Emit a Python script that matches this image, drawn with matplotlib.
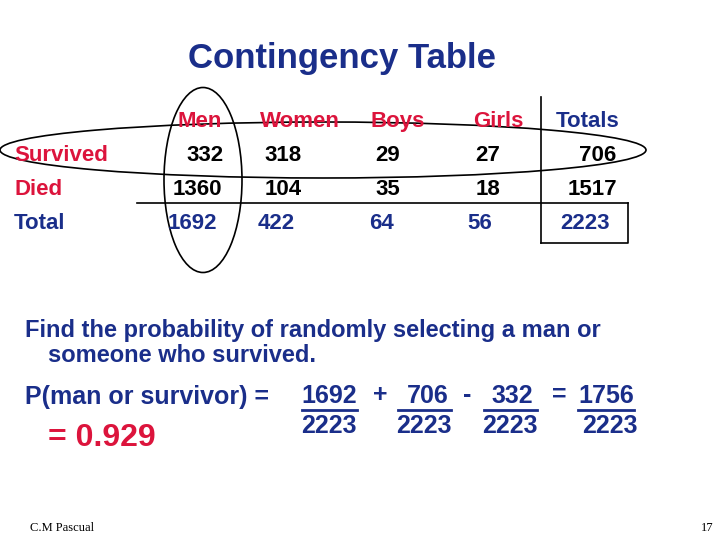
import matplotlib
matplotlib.use("Agg")
import matplotlib.pyplot as plt
from matplotlib.patches import Ellipse

RED = "#DC143C"
NAVY = "#1A2E8A"
col_headers = ["Men", "Women", "Boys", "Girls", "Totals"]
row_labels = ["Survived", "Died", "Total"]
survived = [332, 318, 29, 27, 706]
died = [1360, 104, 35, 18, 1517]
total = [1692, 422, 64, 56, 2223]
numerators = ["1692", "706", "332", "1756"]
denominators = ["2223", "2223", "2223", "2223"]
operators = ["+", "-", "="]

fig = plt.figure(figsize=(7.2, 5.4), dpi=100)
ax = fig.add_axes([0, 0, 1, 1])
ax.set_xlim(0, 720); ax.set_ylim(540, 0); ax.axis("off")
F = "Liberation Sans"
TS = 16
B = 8  # baseline offset from visual center

ax.text(342, 57 + 11, "Contingency Table", ha="center", va="baseline", fontsize=25, fontweight="bold", color=NAVY, family=F)

hx = [200, 300, 398, 498, 588]
hcols = [RED, RED, RED, RED, NAVY]
for x, h, c in zip(hx, col_headers, hcols):
    ax.text(x, 119 + B, h, ha="center", va="baseline", fontsize=TS, fontweight="bold", color=c, family=F)
vx = [205, 283, 388, 488, 598]
for x, v in zip(vx, survived):
    ax.text(x, 153 + B, str(v), ha="center", va="baseline", fontsize=TS, fontweight="bold", color="black", family=F)
vx2 = [197, 283, 388, 488, 592]
for x, v in zip(vx2, died):
    ax.text(x, 187 + B, str(v), ha="center", va="baseline", fontsize=TS, fontweight="bold", color="black", family=F)
vx3 = [192, 276, 382, 480, 585]
for x, v in zip(vx3, total):
    ax.text(x, 221 + B, str(v), ha="center", va="baseline", fontsize=TS, fontweight="bold", color=NAVY, family=F)
for y, r, c in zip([153, 187, 221], row_labels, [RED, RED, NAVY]):
    ax.text(14, y + B, r, ha="left", va="baseline", fontsize=TS, fontweight="bold", color=c, family=F)

ax.plot([137, 628], [203, 203], color="black", lw=1.2)
ax.plot([541, 541], [97, 243], color="black", lw=1.2)
ax.plot([541, 628, 628], [243, 243, 203], color="black", lw=1.2)
ax.add_patch(Ellipse((323, 150), 646, 56, fill=False, lw=1.2, ec="black"))
ax.add_patch(Ellipse((203, 180), 78, 185, fill=False, lw=1.2, ec="black"))

ax.text(25, 330, "Find the probability of randomly selecting a man or", ha="left", va="center", fontsize=17, fontweight="bold", color=NAVY, family=F)
ax.text(48, 356, "someone who survived.", ha="left", va="center", fontsize=17, fontweight="bold", color=NAVY, family=F)
ax.text(25, 397, "P(man or survivor) =", ha="left", va="center", fontsize=18, fontweight="bold", color=NAVY, family=F)

ncx = [329, 428, 512, 606]
dcx = [329, 424, 510, 610]
ul = [(302, 357), (398, 451), (484, 537), (578, 634)]
for n, d, xn, xd, (a, b) in zip(numerators, denominators, ncx, dcx, ul):
    ax.text(xn, 396, n, ha="center", va="center", fontsize=18, fontweight="bold", color=NAVY, family=F)
    ax.text(xd, 426, d, ha="center", va="center", fontsize=18, fontweight="bold", color=NAVY, family=F)
    ax.plot([a, b], [410, 410], color=NAVY, lw=2)
for o, x in zip(operators, [380, 467, 559]):
    ax.text(x, 395, o, ha="center", va="center", fontsize=18, fontweight="bold", color=NAVY, family=F)

ax.text(48, 438, "= 0.929", ha="left", va="center", fontsize=23, fontweight="bold", color=RED, family=F)
ax.text(30, 528, "C.M Pascual", ha="left", va="center", fontsize=9, color="black", family="Liberation Serif")
ax.text(714, 528, "17", ha="right", va="center", fontsize=9, color="black", family="Liberation Serif")

fig.savefig("out.png", dpi=100)
